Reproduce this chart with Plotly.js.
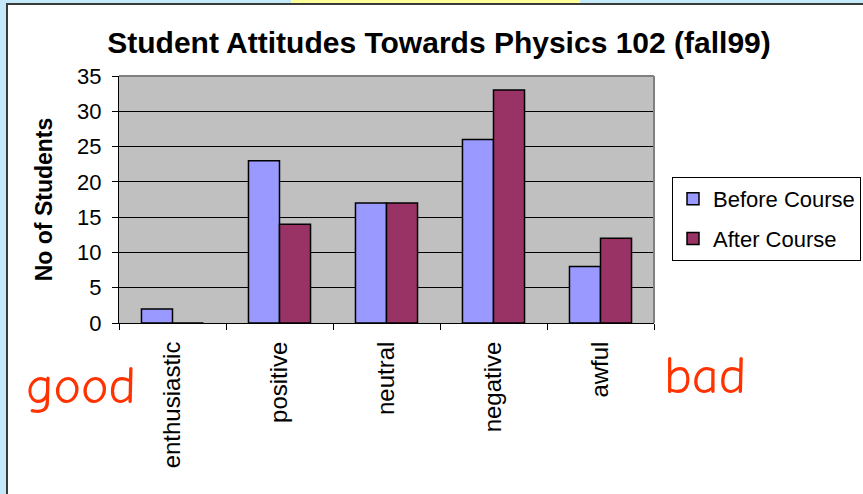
<!DOCTYPE html>
<html>
<head>
<meta charset="utf-8">
<script src="https://cdn.plot.ly/plotly-3.0.1.min.js"></script>
<style>
  html, body { margin: 0; padding: 0; background: #ffffff; }
  #wrap { position: relative; width: 863px; height: 494px; overflow: hidden; }
  #chart { position: absolute; left: 0; top: 0; width: 863px; height: 494px; }
  .strip { position: absolute; pointer-events: none; }
</style>
</head>
<body>
<div id="wrap">
  <div id="chart"></div>
  <div class="strip" style="left:0;top:0;width:863px;height:3px;background:#c4e9f9;"></div>
  <div class="strip" style="left:291px;top:0;width:289px;height:3px;background:#ffff99;"></div>
  <div class="strip" style="left:0;top:0;width:6px;height:494px;background:#c4e9f9;"></div>
  <div class="strip" style="left:6px;top:3px;width:857px;height:2px;background:#3a3a3a;"></div>
  <div class="strip" style="left:6px;top:3px;width:2px;height:491px;background:#3a3a3a;"></div>
</div>
<script>
const categories = ["enthusiastic", "positive", "neutral", "negative", "awful"];
const beforeCourse = [2, 23, 17, 26, 8];
const afterCourse = [0, 14, 17, 33, 12];
const seriesNames = ["Before Course", "After Course"];
const yTicks = [0, 5, 10, 15, 20, 25, 30, 35];
const chartTitle = "Student Attitudes Towards Physics 102 (fall99)";
const yTitle = "No of Students";
const sideLabels = ["good", "bad"];

const arial = "Arial, 'Liberation Sans', sans-serif";
const comic = "'Comic Sans MS', 'Comic Neue', 'DejaVu Sans', sans-serif";

const traces = [
  {
    type: "bar", x: categories, y: beforeCourse, name: seriesNames[0],
    legendgroup: "a",
    marker: { color: "#9999ff", line: { color: "#000000", width: 1.5 } }
  },
  {
    type: "bar", x: categories, y: afterCourse, name: seriesNames[1],
    legendgroup: "b",
    marker: { color: "#993366", line: { color: "#000000", width: 1.5 } }
  }
];

const layout = {
  width: 863, height: 494,
  margin: { l: 119, r: 209, t: 76, b: 171, pad: 0, autoexpand: false },
  paper_bgcolor: "#ffffff",
  plot_bgcolor: "#c0c0c0",
  barmode: "group",
  bargap: 0.42,
  bargroupgap: 0,
  showlegend: true,
  title: {
    text: "<b>" + chartTitle + "</b>",
    font: { family: arial, size: 30, color: "#000000" },
    x: 439 / 863, xanchor: "center", xref: "container",
    y: 1 - 42 / 494, yanchor: "middle", yref: "container"
  },
  xaxis: {
    type: "category",
    showline: true, linecolor: "#000000", linewidth: 1,
    ticks: "outside", tickson: "boundaries", ticklen: 6, tickcolor: "#000000", tickwidth: 1,
    tickangle: -90, ticklabelstandoff: 8,
    tickfont: { family: arial, size: 24, color: "#000000" },
    showgrid: false, zeroline: false
  },
  yaxis: {
    range: [0, 35],
    tickvals: yTicks,
    showline: true, linecolor: "#000000", linewidth: 1,
    ticks: "outside", ticklen: 6, tickcolor: "#000000", tickwidth: 1,
    ticklabelstandoff: 6,
    tickfont: { family: arial, size: 22, color: "#000000" },
    showgrid: true, gridcolor: "#000000", gridwidth: 1,
    zeroline: false,
    title: { text: "<b>" + yTitle + "</b>", font: { family: arial, size: 23, color: "#000000" }, standoff: 18 }
  },
  legend: {
    xref: "container", yref: "container",
    x: 672 / 863, xanchor: "left",
    y: 1 - 177 / 494, yanchor: "top",
    bgcolor: "#ffffff", bordercolor: "#000000", borderwidth: 1,
    font: { family: arial, size: 22, color: "#000000" },
    traceorder: "grouped", tracegroupgap: 8
  },
  shapes: [
    { type: "line", xref: "paper", yref: "paper", x0: 0, x1: 1, y0: 1, y1: 1, line: { color: "#808080", width: 2 }, layer: "above" },
    { type: "line", xref: "paper", yref: "paper", x0: 1, x1: 1, y0: 0, y1: 1, line: { color: "#808080", width: 2 }, layer: "above" }
  ],
  annotations: [
    { text: sideLabels[0], xref: "paper", yref: "paper", x: (81 - 119) / 535, y: (323 - 386) / 247,
      xanchor: "center", yanchor: "middle", showarrow: false,
      font: { family: comic, size: 52, color: "#ff3300" } },
    { text: sideLabels[1], xref: "paper", yref: "paper", x: (705 - 119) / 535, y: (323 - 376) / 247,
      xanchor: "center", yanchor: "middle", showarrow: false,
      font: { family: comic, size: 52, color: "#ff3300" } }
  ]
};

Plotly.newPlot("chart", traces, layout, { displayModeBar: false, staticPlot: true });
</script>
</body>
</html>
